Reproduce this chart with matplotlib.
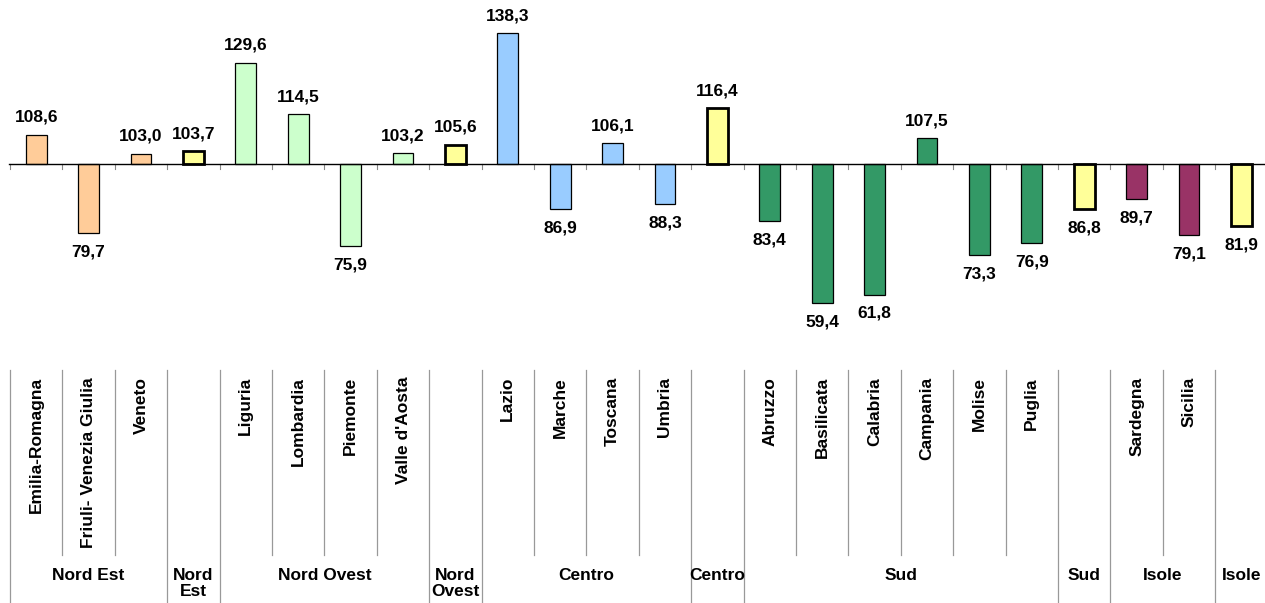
import matplotlib
matplotlib.use("Agg")
import matplotlib.pyplot as plt

plt.rcParams['font.family'] = ['Liberation Sans', 'DejaVu Sans']

categories = ["Emilia-Romagna", "Friuli- Venezia Giulia", "Veneto", "", "Liguria", "Lombardia",
              "Piemonte", "Valle d'Aosta", "", "Lazio", "Marche", "Toscana", "Umbria", "",
              "Abruzzo", "Basilicata", "Calabria", "Campania", "Molise", "Puglia", "",
              "Sardegna", "Sicilia", ""]
values = [108.6, 79.7, 103.0, 103.7, 129.6, 114.5, 75.9, 103.2, 105.6, 138.3, 86.9, 106.1, 88.3,
          116.4, 83.4, 59.4, 61.8, 107.5, 73.3, 76.9, 86.8, 89.7, 79.1, 81.9]
value_labels = ["108,6", "79,7", "103,0", "103,7", "129,6", "114,5", "75,9", "103,2", "105,6",
                "138,3", "86,9", "106,1", "88,3", "116,4", "83,4", "59,4", "61,8", "107,5",
                "73,3", "76,9", "86,8", "89,7", "79,1", "81,9"]
# groups: (label, first index, last index)
groups = [("Nord Est", 0, 2), ("Nord\nEst", 3, 3), ("Nord Ovest", 4, 7), ("Nord\nOvest", 8, 8),
          ("Centro", 9, 12), ("Centro", 13, 13), ("Sud", 14, 19), ("Sud", 20, 20),
          ("Isole", 21, 22), ("Isole", 23, 23)]
aggregate_idx = [3, 8, 13, 20, 23]
group_colors = ["#FFCC99", "#FFCC99", "#CCFFCC", "#CCFFCC", "#99CCFF", "#99CCFF",
                "#339966", "#339966", "#993366", "#993366"]

W, H, DPI = 1265, 603, 100
fig = plt.figure(figsize=(W / DPI, H / DPI), dpi=DPI)
ax = fig.add_axes([0, 0, 1, 1])
ax.axis("off")

base_px, unit_px, x0_px, cat_px = 164.0, 3.42, 10.0, 52.4


def yv(px):
    return 100 - (px - base_px) / unit_px


ax.set_xlim(-0.5 - x0_px / cat_px, -0.5 + (W - x0_px) / cat_px)
ax.set_ylim(yv(H), yv(0))

colors = []
for (lab, a, b), c in zip(groups, group_colors):
    for i in range(a, b + 1):
        colors.append("#FFFF99" if i in aggregate_idx else c)

n = len(values)
xs = list(range(n))
for i in xs:
    agg = i in aggregate_idx
    ax.bar(i, values[i] - 100, bottom=100, width=0.4, color=colors[i],
           edgecolor="black", linewidth=2.0 if agg else 0.9, zorder=3)
    if values[i] >= 100:
        ax.annotate(value_labels[i], (i, values[i]), xytext=(0, 12.5), textcoords="offset points",
                    ha="center", va="center", fontsize=12.5, fontweight="bold")
    else:
        ax.annotate(value_labels[i], (i, values[i]), xytext=(0, -13.5), textcoords="offset points",
                    ha="center", va="center", fontsize=12.5, fontweight="bold")

# baseline and ticks
ax.plot([-0.52, n - 0.5], [100, 100], color="black", lw=1.0, zorder=4)
for b in range(n + 1):
    ax.plot([b - 0.5, b - 0.5], [100, yv(base_px + 5)], color="#888888", lw=0.8, zorder=2)

# separators in label area
long_b = {0, n}
for lab, a, b in groups:
    long_b.add(a)
    long_b.add(b + 1)
for b in range(n + 1):
    bottom = yv(H + 5) if b in long_b else yv(555)
    ax.plot([b - 0.5, b - 0.5], [yv(370), bottom], color="#999999", lw=0.9, clip_on=False)

# rotated category labels
for i, lab in enumerate(categories):
    if lab:
        ax.text(i, yv(377), lab, rotation=90, ha="center", va="top", fontsize=12.5,
                fontweight="bold")

# group labels
for lab, a, b in groups:
    ax.text((a + b) / 2, yv(568), lab, ha="center", va="top", fontsize=12.5,
            fontweight="bold", linespacing=1.05)

fig.savefig("out.png", dpi=DPI)
